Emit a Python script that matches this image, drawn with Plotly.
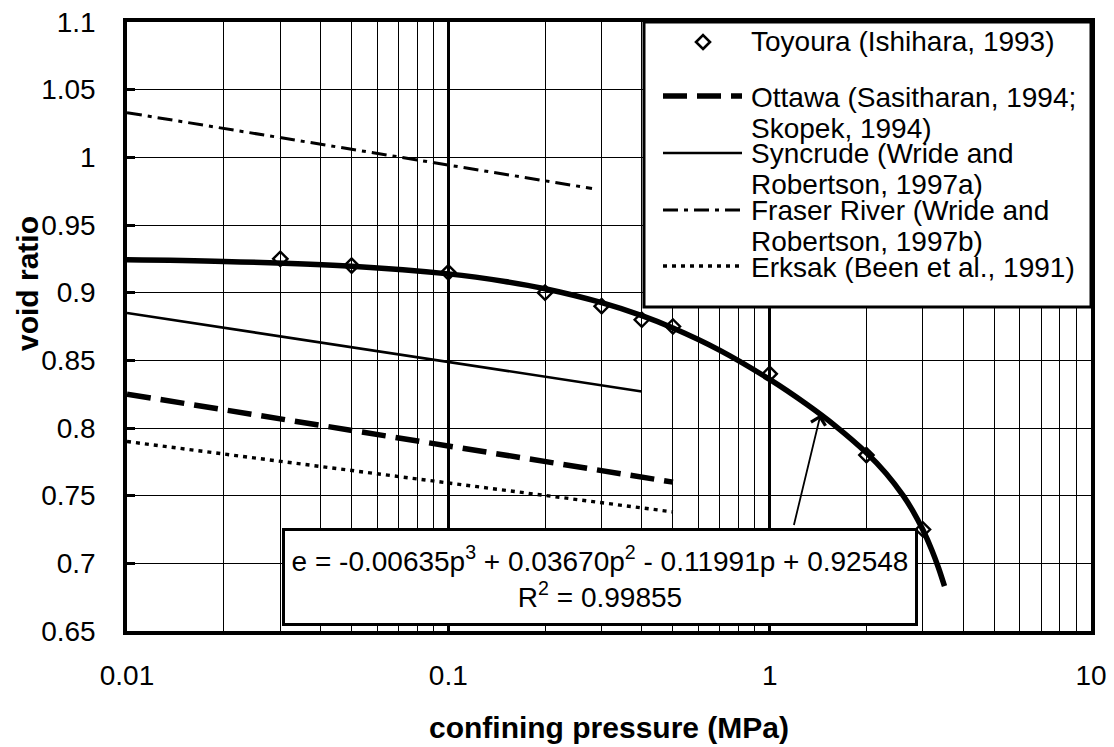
import math
import plotly.graph_objects as go

# ---------------- data ----------------
# Toyoura (Ishihara, 1993) measured points
toyoura_p = [0.03, 0.05, 0.1, 0.2, 0.3, 0.4, 0.5, 1.0, 2.0, 3.0]
toyoura_e = [0.925, 0.92, 0.915, 0.90, 0.89, 0.88, 0.875, 0.84, 0.78, 0.725]

# thick fitted curve through the Toyoura points
fit_p = [0.01, 0.02, 0.05, 0.1, 0.15, 0.2, 0.3, 0.4, 0.5, 0.7, 1.0, 1.3, 1.6,
         2.0, 2.3, 2.6, 2.8, 3.0, 3.2, 3.35, 3.5]
fit_e = [0.9243, 0.9231, 0.9196, 0.9139, 0.9083, 0.9029, 0.8926, 0.8830, 0.8739,
         0.8574, 0.8359, 0.8177, 0.8016, 0.7817, 0.7666, 0.7502, 0.7381, 0.7246,
         0.7095, 0.6969, 0.6831]

ottawa_p = [0.01, 0.5]
ottawa_e = [0.825, 0.760]

syncrude_p = [0.01, 0.4]
syncrude_e = [0.885, 0.827]

fraser_p = [0.01, 0.28]
fraser_e = [1.033, 0.977]

erksak_p = [0.01, 0.5]
erksak_e = [0.790, 0.738]

x_tickvals = [0.01, 0.1, 1, 10]
x_ticktext = ["0.01", "0.1", "1", "10"]
y_tickvals = [0.65, 0.70, 0.75, 0.80, 0.85, 0.90, 0.95, 1.00, 1.05, 1.10]
y_ticktext = ["0.65", "0.7", "0.75", "0.8", "0.85", "0.9", "0.95", "1", "1.05", "1.1"]

legend_lines = [
    ("Toyoura (Ishihara, 1993)", None),
    ("Ottawa (Sasitharan, 1994;", "Skopek, 1994)"),
    ("Syncrude (Wride and", "Robertson, 1997a)"),
    ("Fraser River (Wride and", "Robertson, 1997b)"),
    ("Erksak (Been et al., 1991)", None),
]

eq_text = ("e = -0.00635p<sup>3</sup> + 0.03670p<sup>2</sup> - 0.11991p + 0.92548"
           "<br>R<sup>2</sup> = 0.99855")
arrow_p, arrow_e = 1.44, 0.810

# ---------------- layout helpers ----------------
W, H = 1114, 747
L, R, T, B = 127, 23, 22, 116
PW, PH = W - L - R, H - T - B
FONT = "Liberation Sans, Arial, sans-serif"


def px(xp):
    return (xp - L) / PW


def py(yp):
    return (H - B - yp) / PH


# ---------------- styles ----------------
st_ottawa = dict(color="black", width=5.5, dash="24px,10px")
st_syncrude = dict(color="black", width=2.6)
st_fraser = dict(color="black", width=3, dash="15px,6px,4px,6px")
st_erksak = dict(color="black", width=3.4, dash="4px,5px")

fig = go.Figure()
fig.add_trace(go.Scatter(x=fraser_p, y=fraser_e, mode="lines", line=st_fraser,
                         name="Fraser River", showlegend=False))
fig.add_trace(go.Scatter(x=syncrude_p, y=syncrude_e, mode="lines", line=st_syncrude,
                         name="Syncrude", showlegend=False))
fig.add_trace(go.Scatter(x=ottawa_p, y=ottawa_e, mode="lines", line=st_ottawa,
                         name="Ottawa", showlegend=False))
fig.add_trace(go.Scatter(x=erksak_p, y=erksak_e, mode="lines", line=st_erksak,
                         name="Erksak", showlegend=False))
fig.add_trace(go.Scatter(x=fit_p, y=fit_e, mode="lines", line=dict(color="black", width=5.5),
                         line_shape="spline", name="fit", showlegend=False))
fig.add_trace(go.Scatter(x=toyoura_p, y=toyoura_e, mode="markers",
                         marker=dict(symbol="diamond-open", size=11, color="black",
                                     line=dict(width=2.4, color="black")),
                         name="Toyoura", showlegend=False))

minor_vals = [m * 10 ** k for k in (-2, -1, 0) for m in range(2, 10)]

fig.update_xaxes(type="log", range=[-2, 1], tickvals=x_tickvals, ticktext=x_ticktext,
                 showgrid=True, gridcolor="black", gridwidth=3,
                 minor=dict(tickvals=minor_vals, showgrid=True, gridcolor="black",
                            gridwidth=1.3, ticks=""),
                 showline=True, mirror=True, linecolor="black", linewidth=3.5,
                 ticks="", ticklabelstandoff=17, zeroline=False, automargin=False,
                 tickfont=dict(family=FONT, size=28, color="black"),
                 title=dict(text="<b>confining pressure (MPa)</b>", standoff=28,
                            font=dict(family=FONT, size=30, color="black")))
fig.update_yaxes(range=[0.65, 1.1], tickvals=y_tickvals, ticktext=y_ticktext,
                 showgrid=True, gridcolor="black", gridwidth=1.4,
                 showline=True, mirror=True, linecolor="black", linewidth=3.5,
                 ticks="inside", ticklen=8, tickwidth=3, tickcolor="black",
                 ticklabelstandoff=22, zeroline=False, automargin=False,
                 tickfont=dict(family=FONT, size=28, color="black"))

shapes = []
annotations = []

# legend box
shapes.append(dict(type="rect", xref="paper", yref="paper", x0=px(644), x1=1.0,
                   y0=py(307), y1=1.0, line=dict(color="black", width=3),
                   fillcolor="white", layer="above"))
# legend swatches
sw_x0, sw_x1 = px(663), px(742)
for yy, st in [(96, st_ottawa), (153, st_syncrude), (210, st_fraser), (266, st_erksak)]:
    shapes.append(dict(type="line", xref="paper", yref="paper", x0=sw_x0, x1=sw_x1,
                       y0=py(yy), y1=py(yy), line=st, layer="above"))
shapes.append(dict(type="path", xref="paper", yref="paper", xsizemode="pixel",
                   ysizemode="pixel", xanchor=px(703), yanchor=py(42),
                   path="M0,-7 L7,0 L0,7 L-7,0 Z",
                   line=dict(color="black", width=2.6), fillcolor="white", layer="above"))

# legend text
row_y = [42, 98, 154, 211, 267]
for (first, second), yy in zip(legend_lines, row_y):
    annotations.append(dict(xref="paper", yref="paper", x=px(749), y=py(yy),
                            xanchor="left", yanchor="middle", showarrow=False,
                            text=first, font=dict(family=FONT, size=28, color="black")))
    if second:
        annotations.append(dict(xref="paper", yref="paper", x=px(749), y=py(yy + 30),
                                xanchor="left", yanchor="middle", showarrow=False,
                                text=second, font=dict(family=FONT, size=28, color="black")))

# equation box
annotations.append(dict(xref="paper", yref="paper", x=px(599.5), y=py(576.5),
                        xanchor="center", yanchor="middle", showarrow=False,
                        text=eq_text, align="center", width=626, height=88,
                        bordercolor="black", borderwidth=3, borderpad=2, bgcolor="white",
                        font=dict(family=FONT, size=28, color="black")))
# arrow from equation box to the curve
annotations.append(dict(x=math.log10(arrow_p), y=arrow_e, xref="x", yref="y", text="",
                        showarrow=True, arrowhead=4, arrowsize=1.6, arrowwidth=1.8,
                        arrowcolor="black", ax=-27, ay=112))
# y-axis title
annotations.append(dict(xref="paper", yref="paper", x=px(27), y=py(284),
                        xanchor="center", yanchor="middle", showarrow=False,
                        text="<b>void ratio</b>", textangle=-90,
                        font=dict(family=FONT, size=30, color="black")))

fig.update_layout(width=W, height=H, autosize=False,
                  margin=dict(l=L, r=R, t=T, b=B, autoexpand=False),
                  paper_bgcolor="white", plot_bgcolor="white",
                  showlegend=False, shapes=shapes, annotations=annotations,
                  font=dict(family=FONT, color="black"))

fig.write_html("out.html")
